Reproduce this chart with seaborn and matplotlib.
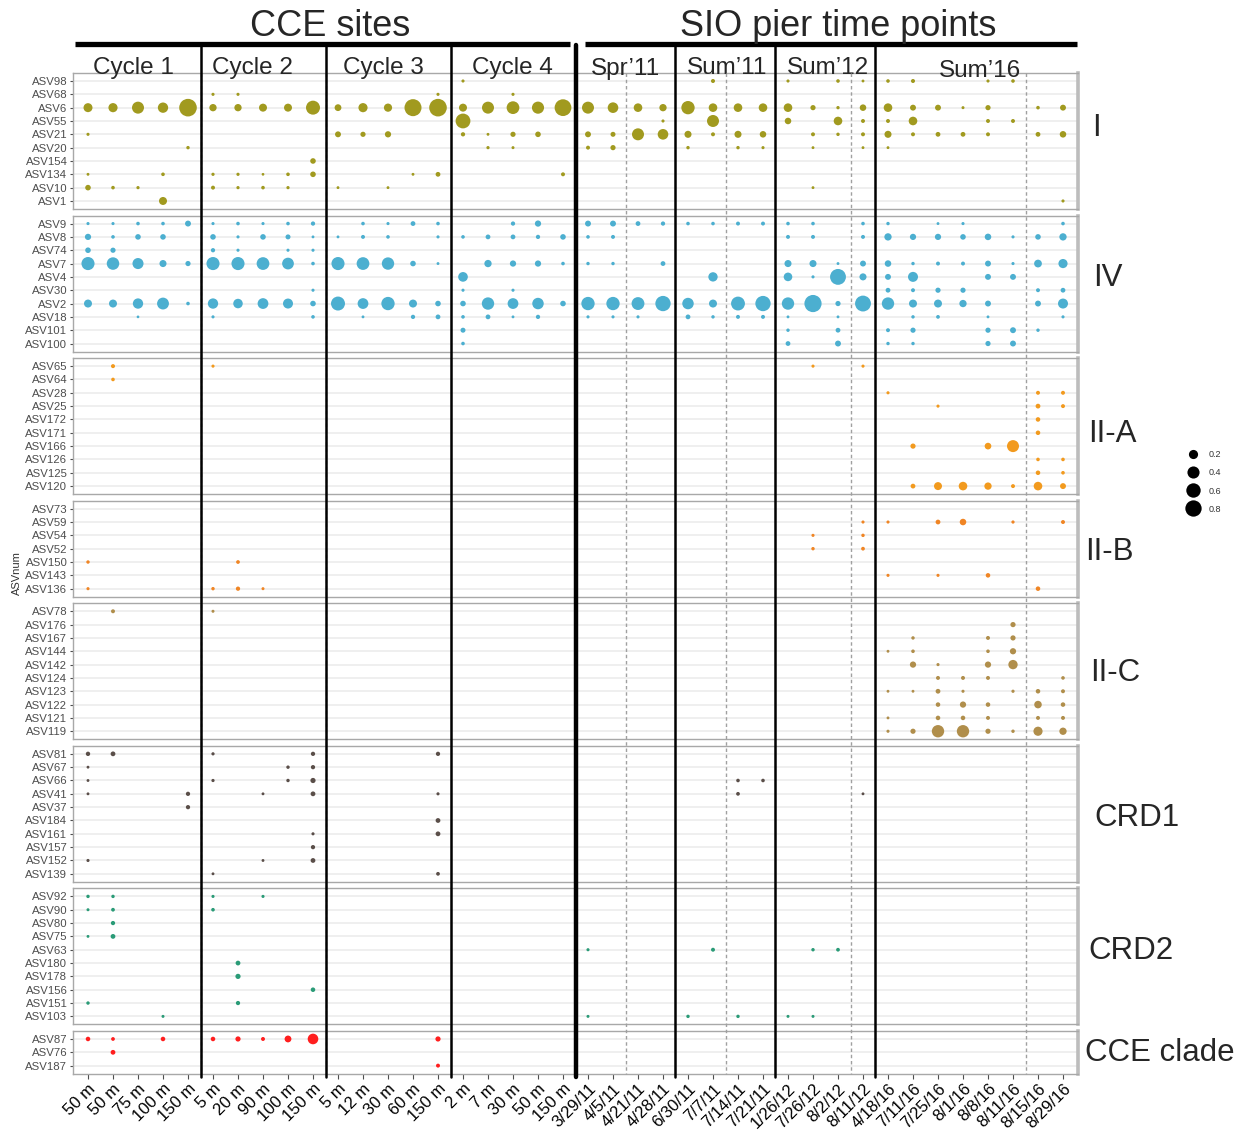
import numpy as np
import pandas as pd
import matplotlib
matplotlib.use("Agg")
import matplotlib.pyplot as plt
from matplotlib.lines import Line2D
import seaborn as sns

# ---------------- data ----------------
samples = ["50 m", "50 m", "75 m", "100 m", "150 m",
           "5 m", "20 m", "90 m", "100 m", "150 m",
           "5 m", "12 m", "30 m", "60 m", "150 m",
           "2 m", "7 m", "30 m", "50 m", "150 m",
           "3/29/11", "4/5/11", "4/21/11", "4/28/11",
           "6/30/11", "7/7/11", "7/14/11", "7/21/11",
           "1/26/12", "7/26/12", "8/2/12", "8/11/12",
           "4/18/16", "7/11/16", "7/25/16", "8/1/16", "8/8/16", "8/11/16", "8/15/16", "8/29/16"]

period_labels = ["Cycle 1", "Cycle 2", "Cycle 3", "Cycle 4",
                 "Spr\u201911", "Sum\u201911", "Sum\u201912", "Sum\u201916"]

I_asv = ["ASV98", "ASV68", "ASV6", "ASV55", "ASV21", "ASV20", "ASV154", "ASV134", "ASV10", "ASV1"]
I_vals = [
    [0, 0, 0, 0, 0,  0, 0, 0, 0, 0,  0, 0, 0, 0, 0,  .005, 0, 0, 0, 0,
     0, 0, 0, 0,  0, .016, 0, 0,  .005, 0, .01, .003,  .01, .016, 0, 0, .005, .01, 0, 0],
    [0, 0, 0, 0, 0,  .005, .005, 0, 0, 0,  0, 0, 0, 0, .005,  0, 0, .005, 0, 0,
     0, 0, 0, 0,  0, 0, 0, 0,  0, 0, 0, 0,  0, 0, 0, 0, 0, 0, 0, 0],
    [.19, .2, .39, .27, .95,  .11, .11, .14, .14, .56,  .09, .2, .15, .88, .95,  .14, .39, .45, .4, .85,
     .39, .29, .17, .11,  .5, .17, .17, .17,  .17, .04, .007, .08,  .17, .06, .06, .004, .04, 0, .01, .06],
    [0, 0, 0, 0, 0,  0, 0, 0, 0, 0,  0, 0, 0, 0, 0,  .64, 0, 0, 0, 0,
     0, 0, 0, .005,  0, .39, 0, 0,  .08, 0, .17, .015,  .015, .17, 0, 0, .015, .015, 0, 0],
    [.005, 0, 0, 0, 0,  0, 0, 0, 0, 0,  .06, .04, .07, 0, 0,  .02, .003, .04, .05, 0,
     .06, .035, .39, .29,  .1, .015, .1, .08,  0, .015, .008, .015,  .1, .015, .03, .03, .015, 0, .03, .08],
    [0, 0, 0, 0, .008,  0, 0, 0, 0, 0,  0, 0, 0, 0, 0,  0, .006, .004, 0, 0,
     .015, .04, 0, 0,  .008, 0, .008, .005,  0, .003, 0, .003,  .003, 0, 0, 0, 0, 0, 0, 0],
    [0, 0, 0, 0, 0,  0, 0, 0, 0, .05,  0, 0, 0, 0, 0,  0, 0, 0, 0, 0,
     0, 0, 0, 0,  0, 0, 0, 0,  0, 0, 0, 0,  0, 0, 0, 0, 0, 0, 0, 0],
    [.003, 0, 0, .01, 0,  .006, .006, .002, .01, .05,  0, 0, 0, .003, .03,  0, 0, 0, 0, .015,
     0, 0, 0, 0,  0, 0, 0, 0,  0, 0, 0, 0,  0, 0, 0, 0, 0, 0, 0, 0],
    [.05, .01, .006, 0, 0,  .015, .006, .01, .006, 0,  .003, 0, .003, 0, 0,  0, 0, 0, 0, 0,
     0, 0, 0, 0,  0, 0, 0, 0,  0, .003, 0, 0,  0, 0, 0, 0, 0, 0, 0, 0],
    [0, 0, 0, .14, 0,  0, 0, 0, 0, 0,  0, 0, 0, 0, 0,  0, 0, 0, 0, 0,
     0, 0, 0, 0,  0, 0, 0, 0,  0, 0, 0, 0,  0, 0, 0, 0, 0, 0, 0, .005],
]

IV_asv = ["ASV9", "ASV8", "ASV74", "ASV7", "ASV4", "ASV30", "ASV2", "ASV18", "ASV101", "ASV100"]
IV_vals = [
    [.005, .005, .01, .01, .06,  .005, .01, .005, .01, .02,  0, .01, .005, .03, .01,  0, 0, .02, .07, 0,
     .06, .06, .03, .02,  .01, .01, .015, .015,  .01, .01, 0, .01,  .008, 0, .003, .005, 0, 0, 0, .01],
    [.07, .01, .05, .05, 0,  .05, .005, .05, .035, .003,  .003, .015, .01, 0, .005,  .01, .03, .03, .02, .05,
     .01, .015, 0, 0,  0, 0, 0, 0,  .015, .015, 0, .015,  .11, .07, .07, .05, .08, .005, .05, .11],
    [.05, .04, 0, 0, 0,  .02, .005, 0, .005, .005,  0, 0, 0, 0, 0,  0, 0, 0, 0, 0,
     0, 0, 0, 0,  0, 0, 0, 0,  0, 0, 0, 0,  0, 0, 0, 0, 0, 0, 0, 0],
    [.48, .43, .32, .1, .04,  .48, .48, .45, .37, .01,  .48, .45, .42, .05, .003,  0, .11, .07, .07, .01,
     .008, .008, 0, .03,  0, 0, 0, 0,  .1, .1, .003, .06,  .08, .008, .015, .015, .06, .005, .13, .2],
    [0, 0, 0, 0, 0,  0, 0, 0, 0, 0,  0, 0, 0, 0, 0,  .23, 0, 0, 0, 0,
     0, 0, 0, 0,  0, .21, 0, 0,  .17, .005, .75, .1,  .06, .25, 0, 0, .06, .06, 0, 0],
    [0, 0, 0, 0, 0,  0, 0, 0, 0, .005,  0, 0, 0, 0, 0,  .005, 0, .005, 0, 0,
     0, 0, 0, 0,  0, 0, 0, 0,  0, 0, 0, 0,  .03, .015, .04, .04, 0, 0, .015, .03],
    [.14, .14, .27, .38, .01,  .27, .22, .3, .25, .05,  .56, .3, .5, .14, .05,  .05, .42, .3, .35, .05,
     .5, .5, .46, .69,  .35, .14, .55, .69,  .42, .9, .04, .75,  .42, .14, .14, .11, .06, 0, .06, .25],
    [0, 0, .002, 0, 0,  .005, 0, 0, 0, .01,  0, .003, 0, .02, .03,  .01, .03, .003, .02, 0,
     .005, .005, .005, 0,  .03, .008, .015, .015,  .003, 0, .003, 0,  0, .008, .012, 0, .003, 0, 0, .005],
    [0, 0, 0, 0, 0,  0, 0, 0, 0, 0,  0, 0, 0, 0, 0,  .035, 0, 0, 0, 0,
     0, 0, 0, 0,  0, 0, 0, 0,  .008, 0, .03, 0,  .015, .04, 0, 0, .04, .06, .008, 0],
    [0, 0, 0, 0, 0,  0, 0, 0, 0, 0,  0, 0, 0, 0, 0,  .01, 0, 0, 0, 0,
     0, 0, 0, 0,  0, 0, 0, 0,  .03, 0, .06, 0,  .008, .008, 0, 0, .04, .06, 0, 0],
]

IIA_asv = ["ASV65", "ASV64", "ASV28", "ASV25", "ASV172", "ASV171", "ASV166", "ASV126", "ASV125", "ASV120"]
IIA_vals = [
    [0, .016, 0, 0, 0,  .005, 0, 0, 0, 0,  0, 0, 0, 0, 0,  0, 0, 0, 0, 0,
     0, 0, 0, 0,  0, 0, 0, 0,  0, .005, 0, .005,  0, 0, 0, 0, 0, 0, 0, 0],
    [0, .01, 0, 0, 0,  0, 0, 0, 0, 0,  0, 0, 0, 0, 0,  0, 0, 0, 0, 0,
     0, 0, 0, 0,  0, 0, 0, 0,  0, 0, 0, 0,  0, 0, 0, 0, 0, 0, 0, 0],
    [0, 0, 0, 0, 0,  0, 0, 0, 0, 0,  0, 0, 0, 0, 0,  0, 0, 0, 0, 0,
     0, 0, 0, 0,  0, 0, 0, 0,  0, 0, 0, 0,  .005, 0, 0, 0, 0, 0, .015, .015],
    [0, 0, 0, 0, 0,  0, 0, 0, 0, 0,  0, 0, 0, 0, 0,  0, 0, 0, 0, 0,
     0, 0, 0, 0,  0, 0, 0, 0,  0, 0, 0, 0,  0, 0, .005, 0, 0, 0, .03, .015],
    [0, 0, 0, 0, 0,  0, 0, 0, 0, 0,  0, 0, 0, 0, 0,  0, 0, 0, 0, 0,
     0, 0, 0, 0,  0, 0, 0, 0,  0, 0, 0, 0,  0, 0, 0, 0, 0, 0, .025, 0],
    [0, 0, 0, 0, 0,  0, 0, 0, 0, 0,  0, 0, 0, 0, 0,  0, 0, 0, 0, 0,
     0, 0, 0, 0,  0, 0, 0, 0,  0, 0, 0, 0,  0, 0, 0, 0, 0, 0, .025, 0],
    [0, 0, 0, 0, 0,  0, 0, 0, 0, 0,  0, 0, 0, 0, 0,  0, 0, 0, 0, 0,
     0, 0, 0, 0,  0, 0, 0, 0,  0, 0, 0, 0,  0, .04, 0, 0, .085, .39, 0, 0],
    [0, 0, 0, 0, 0,  0, 0, 0, 0, 0,  0, 0, 0, 0, 0,  0, 0, 0, 0, 0,
     0, 0, 0, 0,  0, 0, 0, 0,  0, 0, 0, 0,  0, 0, 0, 0, 0, 0, .01, .01],
    [0, 0, 0, 0, 0,  0, 0, 0, 0, 0,  0, 0, 0, 0, 0,  0, 0, 0, 0, 0,
     0, 0, 0, 0,  0, 0, 0, 0,  0, 0, 0, 0,  0, 0, 0, 0, 0, 0, .025, .01],
    [0, 0, 0, 0, 0,  0, 0, 0, 0, 0,  0, 0, 0, 0, 0,  0, 0, 0, 0, 0,
     0, 0, 0, 0,  0, 0, 0, 0,  0, 0, 0, 0,  0, .03, .14, .17, .11, .015, .17, .06],
]

IIB_asv = ["ASV73", "ASV59", "ASV54", "ASV52", "ASV150", "ASV143", "ASV136"]
IIB_vals = [
    [0, 0, 0, 0, 0,  0, 0, 0, 0, 0,  0, 0, 0, 0, 0,  0, 0, 0, 0, 0,
     0, 0, 0, 0,  0, 0, 0, 0,  0, 0, 0, 0,  0, 0, 0, 0, 0, 0, 0, 0],
    [0, 0, 0, 0, 0,  0, 0, 0, 0, 0,  0, 0, 0, 0, 0,  0, 0, 0, 0, 0,
     0, 0, 0, 0,  0, 0, 0, 0,  0, 0, 0, .005,  .005, 0, .03, .08, 0, .006, 0, .015],
    [0, 0, 0, 0, 0,  0, 0, 0, 0, 0,  0, 0, 0, 0, 0,  0, 0, 0, 0, 0,
     0, 0, 0, 0,  0, 0, 0, 0,  0, .005, 0, .008,  0, 0, 0, 0, 0, 0, 0, 0],
    [0, 0, 0, 0, 0,  0, 0, 0, 0, 0,  0, 0, 0, 0, 0,  0, 0, 0, 0, 0,
     0, 0, 0, 0,  0, 0, 0, 0,  0, .008, 0, .012,  0, 0, 0, 0, 0, 0, 0, 0],
    [.008, 0, 0, 0, 0,  0, .012, 0, 0, 0,  0, 0, 0, 0, 0,  0, 0, 0, 0, 0,
     0, 0, 0, 0,  0, 0, 0, 0,  0, 0, 0, 0,  0, 0, 0, 0, 0, 0, 0, 0],
    [0, 0, 0, 0, 0,  0, 0, 0, 0, 0,  0, 0, 0, 0, 0,  0, 0, 0, 0, 0,
     0, 0, 0, 0,  0, 0, 0, 0,  0, 0, 0, 0,  .005, 0, .005, 0, .025, 0, 0, 0],
    [.005, 0, 0, 0, 0,  .008, .02, .004, 0, 0,  0, 0, 0, 0, 0,  0, 0, 0, 0, 0,
     0, 0, 0, 0,  0, 0, 0, 0,  0, 0, 0, 0,  0, 0, 0, 0, 0, 0, .025, 0],
]

IIC_asv = ["ASV78", "ASV176", "ASV167", "ASV144", "ASV142", "ASV124", "ASV123", "ASV122", "ASV121", "ASV119"]
IIC_vals = [
    [0, .015, 0, 0, 0,  .004, 0, 0, 0, 0,  0, 0, 0, 0, 0,  0, 0, 0, 0, 0,
     0, 0, 0, 0,  0, 0, 0, 0,  0, 0, 0, 0,  0, 0, 0, 0, 0, 0, 0, 0],
    [0, 0, 0, 0, 0,  0, 0, 0, 0, 0,  0, 0, 0, 0, 0,  0, 0, 0, 0, 0,
     0, 0, 0, 0,  0, 0, 0, 0,  0, 0, 0, 0,  0, 0, 0, 0, 0, .04, 0, 0],
    [0, 0, 0, 0, 0,  0, 0, 0, 0, 0,  0, 0, 0, 0, 0,  0, 0, 0, 0, 0,
     0, 0, 0, 0,  0, 0, 0, 0,  0, 0, 0, 0,  0, .008, 0, 0, .015, .04, 0, 0],
    [0, 0, 0, 0, 0,  0, 0, 0, 0, 0,  0, 0, 0, 0, 0,  0, 0, 0, 0, 0,
     0, 0, 0, 0,  0, 0, 0, 0,  0, 0, 0, 0,  .003, .01, 0, 0, .01, .07, 0, 0],
    [0, 0, 0, 0, 0,  0, 0, 0, 0, 0,  0, 0, 0, 0, 0,  0, 0, 0, 0, 0,
     0, 0, 0, 0,  0, 0, 0, 0,  0, 0, 0, 0,  0, .07, .005, 0, .07, .21, 0, 0],
    [0, 0, 0, 0, 0,  0, 0, 0, 0, 0,  0, 0, 0, 0, 0,  0, 0, 0, 0, 0,
     0, 0, 0, 0,  0, 0, 0, 0,  0, 0, 0, 0,  0, 0, .015, .015, .015, 0, 0, .01],
    [0, 0, 0, 0, 0,  0, 0, 0, 0, 0,  0, 0, 0, 0, 0,  0, 0, 0, 0, 0,
     0, 0, 0, 0,  0, 0, 0, 0,  0, 0, 0, 0,  .003, .003, .03, .005, 0, .006, .025, .015],
    [0, 0, 0, 0, 0,  0, 0, 0, 0, 0,  0, 0, 0, 0, 0,  0, 0, 0, 0, 0,
     0, 0, 0, 0,  0, 0, 0, 0,  0, 0, 0, 0,  0, 0, .025, .07, .025, 0, .12, .025],
    [0, 0, 0, 0, 0,  0, 0, 0, 0, 0,  0, 0, 0, 0, 0,  0, 0, 0, 0, 0,
     0, 0, 0, 0,  0, 0, 0, 0,  0, 0, 0, 0,  .003, 0, .025, .025, .015, 0, .015, .015],
    [0, 0, 0, 0, 0,  0, 0, 0, 0, 0,  0, 0, 0, 0, 0,  0, 0, 0, 0, 0,
     0, 0, 0, 0,  0, 0, 0, 0,  0, 0, 0, 0,  .005, .04, .42, .42, .04, .008, .2, .11],
]

CRD1_asv = ["ASV81", "ASV67", "ASV66", "ASV41", "ASV37", "ASV184", "ASV161", "ASV157", "ASV152", "ASV139"]
CRD1_vals = [
    [.022, .03, 0, 0, 0,  .006, 0, 0, 0, .02,  0, 0, 0, 0, .02,  0, 0, 0, 0, 0,
     0, 0, 0, 0,  0, 0, 0, 0,  0, 0, 0, 0,  0, 0, 0, 0, 0, 0, 0, 0],
    [.003, 0, 0, 0, 0,  0, 0, 0, .008, .02,  0, 0, 0, 0, 0,  0, 0, 0, 0, 0,
     0, 0, 0, 0,  0, 0, 0, 0,  0, 0, 0, 0,  0, 0, 0, 0, 0, 0, 0, 0],
    [.003, 0, 0, 0, 0,  .006, 0, 0, .008, .04,  0, 0, 0, 0, 0,  0, 0, 0, 0, 0,
     0, 0, 0, 0,  0, 0, .01, .01,  0, 0, 0, 0,  0, 0, 0, 0, 0, 0, 0, 0],
    [.003, 0, 0, 0, .02,  0, 0, .003, 0, .03,  0, 0, 0, 0, .005,  0, 0, 0, 0, 0,
     0, 0, 0, 0,  0, 0, .012, 0,  0, 0, 0, .003,  0, 0, 0, 0, 0, 0, 0, 0],
    [0, 0, 0, 0, .02,  0, 0, 0, 0, 0,  0, 0, 0, 0, 0,  0, 0, 0, 0, 0,
     0, 0, 0, 0,  0, 0, 0, 0,  0, 0, 0, 0,  0, 0, 0, 0, 0, 0, 0, 0],
    [0, 0, 0, 0, 0,  0, 0, 0, 0, 0,  0, 0, 0, 0, .03,  0, 0, 0, 0, 0,
     0, 0, 0, 0,  0, 0, 0, 0,  0, 0, 0, 0,  0, 0, 0, 0, 0, 0, 0, 0],
    [0, 0, 0, 0, 0,  0, 0, 0, 0, .005,  0, 0, 0, 0, .03,  0, 0, 0, 0, 0,
     0, 0, 0, 0,  0, 0, 0, 0,  0, 0, 0, 0,  0, 0, 0, 0, 0, 0, 0, 0],
    [0, 0, 0, 0, 0,  0, 0, 0, 0, .02,  0, 0, 0, 0, 0,  0, 0, 0, 0, 0,
     0, 0, 0, 0,  0, 0, 0, 0,  0, 0, 0, 0,  0, 0, 0, 0, 0, 0, 0, 0],
    [.005, 0, 0, 0, 0,  0, 0, .003, 0, .03,  0, 0, 0, 0, 0,  0, 0, 0, 0, 0,
     0, 0, 0, 0,  0, 0, 0, 0,  0, 0, 0, 0,  0, 0, 0, 0, 0, 0, 0, 0],
    [0, 0, 0, 0, 0,  .003, 0, 0, 0, 0,  0, 0, 0, 0, .012,  0, 0, 0, 0, 0,
     0, 0, 0, 0,  0, 0, 0, 0,  0, 0, 0, 0,  0, 0, 0, 0, 0, 0, 0, 0],
]

CRD2_asv = ["ASV92", "ASV90", "ASV80", "ASV75", "ASV63", "ASV180", "ASV178", "ASV156", "ASV151", "ASV103"]
CRD2_vals = [
    [.008, .008, 0, 0, 0,  .005, 0, .005, 0, 0,  0, 0, 0, 0, 0,  0, 0, 0, 0, 0,
     0, 0, 0, 0,  0, 0, 0, 0,  0, 0, 0, 0,  0, 0, 0, 0, 0, 0, 0, 0],
    [.004, .012, 0, 0, 0,  .01, 0, 0, 0, 0,  0, 0, 0, 0, 0,  0, 0, 0, 0, 0,
     0, 0, 0, 0,  0, 0, 0, 0,  0, 0, 0, 0,  0, 0, 0, 0, 0, 0, 0, 0],
    [0, .02, 0, 0, 0,  0, 0, 0, 0, 0,  0, 0, 0, 0, 0,  0, 0, 0, 0, 0,
     0, 0, 0, 0,  0, 0, 0, 0,  0, 0, 0, 0,  0, 0, 0, 0, 0, 0, 0, 0],
    [.003, .03, 0, 0, 0,  0, 0, 0, 0, 0,  0, 0, 0, 0, 0,  0, 0, 0, 0, 0,
     0, 0, 0, 0,  0, 0, 0, 0,  0, 0, 0, 0,  0, 0, 0, 0, 0, 0, 0, 0],
    [0, 0, 0, 0, 0,  0, 0, 0, 0, 0,  0, 0, 0, 0, 0,  0, 0, 0, 0, 0,
     .005, 0, 0, 0,  0, .015, 0, 0,  0, .008, .012, 0,  0, 0, 0, 0, 0, 0, 0, 0],
    [0, 0, 0, 0, 0,  0, .03, 0, 0, 0,  0, 0, 0, 0, 0,  0, 0, 0, 0, 0,
     0, 0, 0, 0,  0, 0, 0, 0,  0, 0, 0, 0,  0, 0, 0, 0, 0, 0, 0, 0],
    [0, 0, 0, 0, 0,  0, .04, 0, 0, 0,  0, 0, 0, 0, 0,  0, 0, 0, 0, 0,
     0, 0, 0, 0,  0, 0, 0, 0,  0, 0, 0, 0,  0, 0, 0, 0, 0, 0, 0, 0],
    [0, 0, 0, 0, 0,  0, 0, 0, 0, .025,  0, 0, 0, 0, 0,  0, 0, 0, 0, 0,
     0, 0, 0, 0,  0, 0, 0, 0,  0, 0, 0, 0,  0, 0, 0, 0, 0, 0, 0, 0],
    [.008, 0, 0, 0, 0,  0, .02, 0, 0, 0,  0, 0, 0, 0, 0,  0, 0, 0, 0, 0,
     0, 0, 0, 0,  0, 0, 0, 0,  0, 0, 0, 0,  0, 0, 0, 0, 0, 0, 0, 0],
    [0, 0, 0, .004, 0,  0, 0, 0, 0, 0,  0, 0, 0, 0, 0,  0, 0, 0, 0, 0,
     .004, 0, 0, 0,  .008, 0, .008, 0,  .004, .004, 0, 0,  0, 0, 0, 0, 0, 0, 0, 0],
]

CCE_asv = ["ASV87", "ASV76", "ASV187"]
CCE_vals = [
    [.025, .012, 0, .025, 0,  .025, .04, .015, .09, .29,  0, 0, 0, 0, .04,  0, 0, 0, 0, 0,
     0, 0, 0, 0,  0, 0, 0, 0,  0, 0, 0, 0,  0, 0, 0, 0, 0, 0, 0, 0],
    [0, .03, 0, 0, 0,  0, 0, 0, 0, 0,  0, 0, 0, 0, 0,  0, 0, 0, 0, 0,
     0, 0, 0, 0,  0, 0, 0, 0,  0, 0, 0, 0,  0, 0, 0, 0, 0, 0, 0, 0],
    [0, 0, 0, 0, 0,  0, 0, 0, 0, 0,  0, 0, 0, 0, .015,  0, 0, 0, 0, 0,
     0, 0, 0, 0,  0, 0, 0, 0,  0, 0, 0, 0,  0, 0, 0, 0, 0, 0, 0, 0],
]

clades = ["I", "IV", "II-A", "II-B", "II-C", "CRD1", "CRD2", "CCE clade"]
clade_asvs = [I_asv, IV_asv, IIA_asv, IIB_asv, IIC_asv, CRD1_asv, CRD2_asv, CCE_asv]
clade_vals = [I_vals, IV_vals, IIA_vals, IIB_vals, IIC_vals, CRD1_vals, CRD2_vals, CCE_vals]
clade_colors = ["#A19A1F", "#4CAFD0", "#F29A1E", "#F08524", "#B08E4B", "#5A4E49", "#2A9B77", "#FF1E1E"]
legend_values = [0.2, 0.4, 0.6, 0.8]

# ---------------- long table ----------------
def bubble_area(v):
    d_px = 2.0 + 16.0 * np.sqrt(v)         # diameter in pixels
    return (d_px * 0.72) ** 2               # area in pt^2 at 100 dpi

records = []
for clade, asvs, vals in zip(clades, clade_asvs, clade_vals):
    for i, (a, row) in enumerate(zip(asvs, vals)):
        assert len(row) == len(samples), (a, len(row))
        for j, v in enumerate(row):
            if v > 0:
                records.append(dict(clade=clade, asv=a, row=i, col=j, value=v))
df = pd.DataFrame(records)
df["area"] = bubble_area(df["value"])
AMIN, AMAX = bubble_area(0.0), bubble_area(1.0)

# ---------------- figure ----------------
sns.set_style("white")
plt.rcParams["font.family"] = ["Liberation Sans", "DejaVu Sans"]

W, H = 1245, 1131
fig = plt.figure(figsize=(W / 100, H / 100), dpi=100)

ROW_PX = 13.33
GAP_PX = 6.6
X0_PX, X1_PX = 73, 1078
ncol = len(samples)

axes = []
top = 73.0
for clade, asvs, color in zip(clades, clade_asvs, clade_colors):
    n = len(asvs)
    h = (n - 1 + 1.2) * ROW_PX
    ax = fig.add_axes([X0_PX / W, 1 - (top + h) / H, (X1_PX - X0_PX) / W, h / H])
    sub = df[df["clade"] == clade]
    sns.scatterplot(data=sub, x="col", y="row", size="area", sizes=(AMIN, AMAX),
                    size_norm=(AMIN, AMAX), color=color, edgecolor="none", linewidth=0,
                    alpha=1.0, legend=False, ax=ax, zorder=3)
    ax.set_xlim(-0.6, ncol - 1 + 0.6)
    ax.set_ylim(n - 1 + 0.6, -0.6)
    ax.set_yticks(range(n))
    ax.set_yticklabels(asvs, fontsize=8.2, color="#4D4D4D")
    ax.set_xlabel("")
    ax.set_ylabel("")
    ax.set_facecolor("white")
    ax.grid(False)
    for r in range(n):
        ax.axhline(r, color="#EBEBEB", lw=1.1, zorder=0)
    ax.tick_params(axis="y", length=2.5, width=0.8, color="#4D4D4D", pad=1.5, left=True)
    for s in ["left", "top", "bottom"]:
        ax.spines[s].set_color("#A8A8A8")
        ax.spines[s].set_linewidth(1.0)
    ax.spines["right"].set_color("#BDBDBD")
    ax.spines["right"].set_linewidth(2.6)
    ax.set_xticks(range(ncol))
    ax.set_xticklabels([])
    ax.tick_params(axis="x", length=0, bottom=False)
    axes.append(ax)
    top += h + GAP_PX

last = axes[-1]
last.set_xticks(range(ncol))
last.set_xticklabels(samples, rotation=45, ha="right", va="top", rotation_mode="anchor",
                     fontsize=12, color="black")
last.tick_params(axis="x", length=3.5, width=0.8, color="#4D4D4D", pad=2, bottom=True)

# ---------------- reference lines (from the x scale) ----------------
to_fig = fig.transFigure.inverted()
def xfig(b):
    return to_fig.transform(axes[0].transData.transform((b, 0)))[0]

y_top_panels = 1 - 73.0 / H
y_bot_panels = to_fig.transform(last.transAxes.transform((0, 0)))[1]

for b in [4.5, 9.5, 21.5, 25.5, 30.5, 37.5]:
    fig.add_artist(Line2D([xfig(b)] * 2, [y_top_panels, y_bot_panels], transform=fig.transFigure,
                          color="#A0A0A0", lw=1.0, ls=(0, (2.5, 2)), zorder=5))

y_line_top = 1 - 45.0 / H
y_line_bot = 1 - 1077.0 / H
for b in [4.5, 9.5, 14.5, 23.5, 27.5, 31.5]:
    fig.add_artist(Line2D([xfig(b)] * 2, [y_line_top, y_line_bot], transform=fig.transFigure,
                          color="black", lw=1.8, zorder=6))
fig.add_artist(Line2D([xfig(19.5)] * 2, [y_line_top, y_line_bot], transform=fig.transFigure,
                      color="black", lw=3.2, zorder=6))

# header bars
fig.add_artist(Line2D([75 / W, 570 / W], [1 - 44 / H] * 2, transform=fig.transFigure,
                      color="black", lw=3.8, solid_capstyle="butt"))
fig.add_artist(Line2D([585 / W, 1077 / W], [1 - 44 / H] * 2, transform=fig.transFigure,
                      color="black", lw=3.8, solid_capstyle="butt"))

# header text
fig.text(330 / W, 1 - 36 / H, "CCE sites", fontsize=26, ha="center", va="baseline")
fig.text(838 / W, 1 - 36 / H, "SIO pier time points", fontsize=26, ha="center", va="baseline")

period_x = [133, 252, 383, 512, 625, 727, 828, 980]
period_base = [74, 74, 74, 74, 75, 74, 74, 77]
for lab, px, py in zip(period_labels, period_x, period_base):
    fig.text(px / W, 1 - py / H, lab, fontsize=17.5, ha="center", va="baseline")

# clade labels (right side)
clade_lab_x = [1092, 1093, 1088, 1085, 1090, 1094, 1088, 1085]
clade_lab_y = [128, 278, 434, 552, 673, 818, 951, 1053]
for lab, px, py in zip(clades, clade_lab_x, clade_lab_y):
    fig.text(px / W, 1 - py / H, lab, fontsize=22.5, ha="left", va="center")

fig.text(17 / W, 1 - 573 / H, "ASVnum", rotation=90, fontsize=8, color="#333333",
         ha="center", va="center")

# size legend
handles = [Line2D([], [], marker="o", ls="", color="black", markeredgewidth=0,
                  markersize=0.72 * (2.0 + 16.0 * np.sqrt(v))) for v in legend_values]
fig.legend(handles, [f"{v:.1f}" for v in legend_values], loc="center left",
           bbox_to_anchor=(1182 / W, 1 - 482 / H), frameon=False, fontsize=6.5,
           labelspacing=1.0, handlelength=1.4, handletextpad=1.0, borderpad=0,
           labelcolor="#333333")

fig.savefig("out.png", dpi=100)
